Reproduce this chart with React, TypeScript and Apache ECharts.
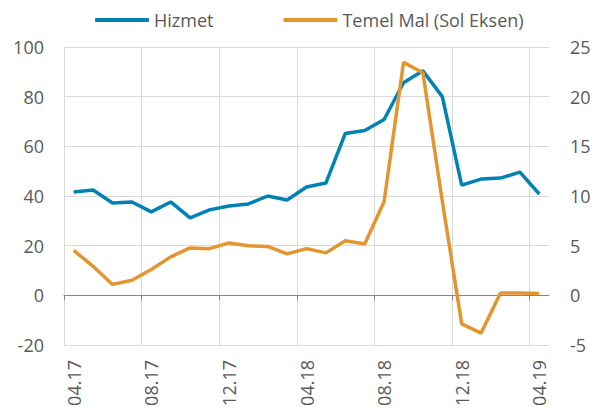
import React, { useEffect, useRef } from "react";
import * as echarts from "echarts";

const months = [
  "04.17", "05.17", "06.17", "07.17", "08.17", "09.17", "10.17", "11.17", "12.17",
  "01.18", "02.18", "03.18", "04.18", "05.18", "06.18", "07.18", "08.18", "09.18",
  "10.18", "11.18", "12.18", "01.19", "02.19", "03.19", "04.19",
];

// Hizmet (right axis units)
const hizmet = [
  10.4, 10.6, 9.3, 9.4, 8.4, 9.4, 7.8, 8.6, 9.0, 9.2, 10.0, 9.6, 10.9, 11.3, 16.3,
  16.6, 17.7, 21.4, 22.6, 20.0, 11.1, 11.7, 11.8, 12.4, 10.2,
];

// Temel Mal (left axis units)
const temelMal = [
  18.1, 11.7, 4.4, 6.1, 10.4, 15.5, 19.1, 18.8, 21.1, 20.0, 19.7, 16.7, 18.8, 17.1,
  22.0, 20.7, 37.7, 93.8, 89.6, 38.0, -11.5, -15.2, 0.9, 0.9, 0.7,
];

const leftTicks = { min: -20, max: 100, interval: 20 };
const rightTicks = { min: -5, max: 25, interval: 5 };

// helper slots: one per category boundary (for the ticks on the zero line)
const boundarySlots = Array.from({ length: months.length + 1 }, () => "");

const FONT = "'Open Sans', 'Noto Sans', sans-serif";
const TEXT = "#595959";
const BLUE = "#0083B4";
const ORANGE = "#E3952F";

export default function App() {
  const ref = useRef<HTMLDivElement>(null);
  useEffect(() => {
    if (!ref.current) return;
    const chart = echarts.init(ref.current, null, { renderer: "svg" });
    chart.setOption({
      animation: false,
      backgroundColor: "#ffffff",
      textStyle: { fontFamily: FONT },
      legend: {
        left: 90,
        top: 6,
        icon: "roundRect",
        itemWidth: 54,
        itemHeight: 4,
        itemGap: 70,
        textStyle: { fontSize: 18, color: TEXT, fontFamily: FONT },
        data: ["Hizmet", "Temel Mal (Sol Eksen)"],
      },
      grid: { left: 64, right: 49, top: 47, bottom: 63, containLabel: false, outerBoundsMode: "none" },
      xAxis: [
        {
          type: "category",
          data: months,
          boundaryGap: true,
          position: "bottom",
          axisLine: { show: false, onZero: false },
          axisTick: { show: false },
          axisLabel: {
            interval: 3,
            rotate: 90,
            margin: 15,
            fontSize: 18,
            color: TEXT,
            fontFamily: FONT,
          },
          splitLine: {
            show: true,
            interval: 3,
            showMaxLine: false,
            lineStyle: { color: "#d9d9d9", width: 1 },
          },
        },
        {
          type: "category",
          data: boundarySlots,
          boundaryGap: false,
          position: "top",
          axisLine: { show: true, onZero: true, onZeroAxisIndex: 0, lineStyle: { color: "#868686", width: 1 } },
          axisTick: { show: true, interval: 3, inside: true, length: 5, lineStyle: { color: "#868686", width: 1 } },
          axisLabel: { show: false },
          splitLine: { show: false },
        },
      ],
      yAxis: [
        {
          type: "value",
          position: "left",
          ...leftTicks,
          axisLine: { show: false },
          axisTick: { show: false },
          axisLabel: { margin: 20, fontSize: 18, color: TEXT, fontFamily: FONT },
          splitLine: { show: true, lineStyle: { color: "#d9d9d9", width: 1 } },
        },
        {
          type: "value",
          position: "right",
          ...rightTicks,
          axisLine: { show: false },
          axisTick: { show: false },
          axisLabel: { margin: 21, fontSize: 18, color: TEXT, fontFamily: FONT },
          splitLine: { show: false },
        },
      ],
      series: [
        {
          name: "Hizmet",
          type: "line",
          xAxisIndex: 0,
          yAxisIndex: 1,
          data: hizmet,
          symbol: "none",
          color: BLUE,
          lineStyle: { color: BLUE, width: 3.5 },
          z: 3,
        },
        {
          name: "Temel Mal (Sol Eksen)",
          type: "line",
          xAxisIndex: 0,
          yAxisIndex: 0,
          data: temelMal,
          symbol: "none",
          color: ORANGE,
          lineStyle: { color: ORANGE, width: 3.5 },
          z: 4,
        },
      ],
    });
    return () => chart.dispose();
  }, []);
  return (
    <div
      ref={ref}
      style={{ position: "absolute", left: 0, top: 0, width: 598, height: 408 }}
    />
  );
}
